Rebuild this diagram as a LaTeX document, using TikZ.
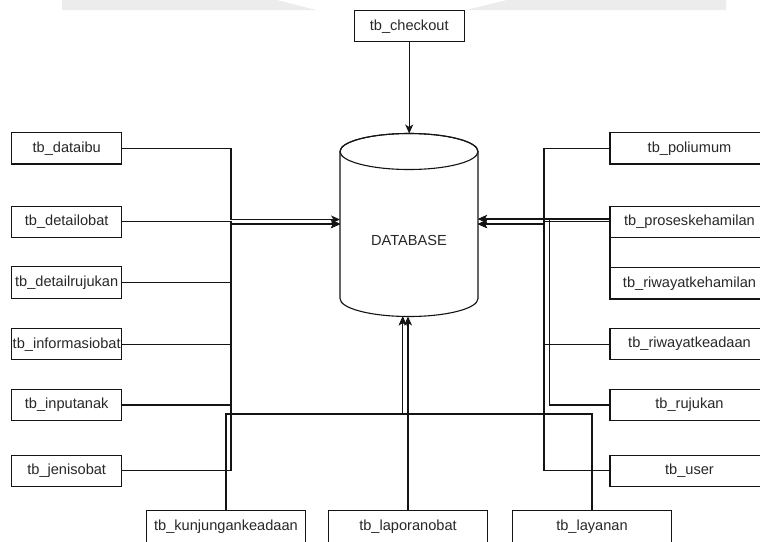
\documentclass[tikz,border=0pt]{standalone}
\usepackage{fontspec}
\setmainfont{Liberation Sans}
\usetikzlibrary{arrows.meta}
\definecolor{inkc}{RGB}{20,20,20}
\definecolor{textc}{RGB}{40,40,40}
\definecolor{bandc}{RGB}{236,236,236}
\begin{document}
\begin{tikzpicture}[x=1pt,y=-1pt,
  tbl/.style={draw=inkc,line width=1.1pt,fill=white,rectangle,inner sep=0pt,
    minimum height=31.3pt,text=textc,font=\fontsize{14.6pt}{17pt}\selectfont},
  sbox/.style={tbl,minimum width=110pt},
  wbox/.style={tbl,minimum width=159pt},
  conn/.style={draw=inkc,line width=1.1pt},
  arr/.style={conn,-{Stealth[length=9pt,width=8pt,inset=2.5pt]}}]
\useasboundingbox (0,0) rectangle (760,541);
\clip (0,0) rectangle (760,541);
\fill[white] (0,0) rectangle (760,541);

% faint header band
\fill[bandc] (62,0) -- (277,0) -- (316,10) -- (62,10) -- cycle;
\fill[bandc] (466,10) -- (507,0) -- (726,0) -- (726,10) -- cycle;

% database cylinder
\filldraw[draw=inkc,line width=1.1pt,fill=white]
  (340,151.5) -- (340,298.5)
  arc[start angle=180,end angle=360,x radius=69pt,y radius=18pt]
  -- (478,151.5)
  arc[start angle=0,end angle=180,x radius=69pt,y radius=18pt] -- cycle;
\draw[draw=inkc,line width=1.1pt] (409,151.5) ellipse[x radius=69pt,y radius=18pt];
\node[text=textc,font=\fontsize{14.6pt}{17pt}\selectfont] (db) at (409,240.5) {DATABASE};

% attachment points on the cylinder
\coordinate (dbT)  at (409.2,133.5);
\coordinate (dbLU) at (340,219.5);
\coordinate (dbLD) at (340,224);
\coordinate (dbRU) at (478,219);
\coordinate (dbRD) at (478,224);
\coordinate (dbB1) at (402.7,316.4);
\coordinate (dbB2) at (408,316.5);

% routing points
\coordinate (ltU) at (231,219.5);
\coordinate (ltD) at (231,224);
\coordinate (rtA) at (544,224);
\coordinate (rtB) at (549.3,219);
\coordinate (bj)  at (402.7,414);

% tables
\node[sbox] (checkout) at (409.2,26.2) {tb\_checkout};

\node[sbox] (dataibu)       at (66.7,148.3) {tb\_dataibu};
\node[sbox] (detailobat)    at (66.7,221.7) {tb\_detailobat};
\node[sbox] (detailrujukan) at (66.7,282.5) {tb\_detailrujukan};
\node[sbox] (informasiobat) at (66.7,344.2) {tb\_informasiobat};
\node[sbox] (inputanak)     at (66.7,405)   {tb\_inputanak};
\node[sbox] (jenisobat)     at (66.7,470.9) {tb\_jenisobat};

\node[wbox] (poliumum)          at (689.5,148.3) {tb\_poliumum};
\node[wbox,minimum height=31.3pt] (proses) at (689.5,221.7) {tb\_proseskehamilan};
\node[wbox,minimum height=30.4pt] (blankrow) at (689.5,252.5) {};
\node[wbox] (riwayatkehamilan)  at (689.5,283.3) {tb\_riwayatkehamilan};
\node[wbox] (riwayatkeadaan)    at (689.5,344.2) {tb\_riwayatkeadaan};
\node[wbox] (rujukan)           at (689.5,405)   {tb\_rujukan};
\node[wbox] (user)              at (689.5,470.9) {tb\_user};

\node[wbox] (kunjungan) at (226,526.5) {tb\_kunjungankeadaan};
\node[wbox] (laporan)   at (408,526.5) {tb\_laporanobat};
\node[wbox] (layanan)   at (592,526.5) {tb\_layanan};

% connectors from the left
\draw[arr] (dataibu.east) -| (ltU) -- (dbLU);
\draw[arr] (detailobat.east) -| (ltD) -- (dbLD);
\draw[arr] (detailrujukan.east) -| (ltD) -- (dbLD);
\draw[arr] (informasiobat.east) -| (ltD) -- (dbLD);
\draw[arr] (inputanak.east) -| (ltD) -- (dbLD);
\draw[arr] (jenisobat.east) -| (ltD) -- (dbLD);

% connectors from the right
\draw[arr] (poliumum.west) -| (rtA) -- (dbRD);
\draw[arr] (riwayatkeadaan.west) -| (rtA) -- (dbRD);
\draw[arr] (user.west) -| (rtA) -- (dbRD);
\draw[arr] (rujukan.west) -| (rtB) -- (dbRU);
\draw[arr] ([yshift=2.7pt]proses.west) -- (dbRU);
\draw[arr] (proses.west) -| (rtA) -- (dbRD);

% connectors from below and above
\draw[arr] (kunjungan.north) |- (bj) -- (dbB1);
\draw[arr] (layanan.north) |- (bj) -- (dbB1);
\draw[arr] (laporan.north) -- (dbB2);
\draw[arr] (checkout.south) -- (dbT);
\end{tikzpicture}
\end{document}
